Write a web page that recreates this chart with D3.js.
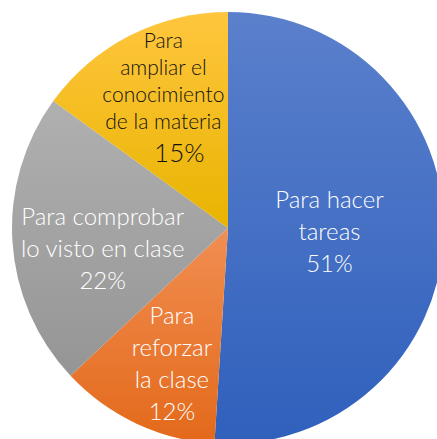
<!DOCTYPE html>
<html>
<head>
<meta charset="utf-8">
<script src="https://cdn.jsdelivr.net/npm/d3@7"></script>
<style>
  html, body { margin: 0; padding: 0; background: #fff; }
  svg { display: block; }
</style>
</head>
<body>
<div id="chart"></div>
<script>
// datos del gráfico
const categories = ['Para hacer tareas', 'Para reforzar la clase', 'Para comprobar lo visto en clase', 'Para ampliar el conocimiento de la materia']
const values = [51, 12, 22, 15]
const labelLines = [
  ['Para hacer', 'tareas'],
  ['Para', 'reforzar', 'la clase'],
  ['Para comprobar', 'lo visto en clase'],
  ['Para', 'ampliar el', 'conocimiento', 'de la materia']
]

// estilos
const width = 437
const height = 439
const cx = 228
const cy = 228
const radius = 216
const gradients = [
  ['#5b80cc', '#2f60bc'],
  ['#f18e52', '#e3691a'],
  ['#b0b0b0', '#959595'],
  ['#ffc63e', '#e8b400']
]
const labelStyle = [
  { k: 0.47, dx: 0, dy: 0, size: 24, lh: 32, color: '#fff' },
  { k: 0.675, dx: 6, dy: 3, size: 24, lh: 32, color: '#fff' },
  { k: 0.586, dx: 1, dy: 12, size: 24, lh: 32, color: '#fff' },
  { k: 0.68, dx: 2, dy: 0, size: 21, lh: 27, color: '#111', pctSize: 26, pctDx: 16, pctGap: 33 }
]

const svg = d3.select('#chart')
  .append('svg')
    .attr('width', width)
    .attr('height', height)

const defs = svg.append('defs')
gradients.forEach((c, i) => {
  const g = defs.append('linearGradient')
    .attr('id', `grad${i}`)
    .attr('x1', 0).attr('y1', 0)
    .attr('x2', 0).attr('y2', 1)
  g.append('stop').attr('offset', '0%').attr('stop-color', c[0])
  g.append('stop').attr('offset', '100%').attr('stop-color', c[1])
})

const pie = d3.pie().sort(null).value(d => d)
const arcs = pie(values)
const arc = d3.arc().innerRadius(0).outerRadius(radius)

const chart = svg.append('g')
  .attr('transform', `translate(${cx},${cy})`)

chart.selectAll('path')
  .data(arcs)
  .enter()
  .append('path')
    .attr('d', arc)
    .attr('fill', (d, i) => `url(#grad${i})`)
    .attr('stroke', 'none')

// etiquetas
arcs.forEach((d, i) => {
  const s = labelStyle[i]
  const r = radius * s.k
  const [x, y] = d3.arc().innerRadius(r).outerRadius(r).centroid(d)
  const lines = labelLines[i]
  const pct = `${values[i]}%`
  const pctSize = s.pctSize || s.size
  const pctGap = s.pctGap || s.lh
  // altura total del bloque (de primera línea base a última)
  const total = (lines.length - 1) * s.lh + pctGap
  const capMid = s.size * 0.36
  const y0 = y + s.dy - total / 2 + capMid
  const g = chart.append('g')
    .attr('font-family', 'Lato, "Open Sans", sans-serif')
    .attr('font-weight', 300)
    .attr('fill', s.color)
    .attr('text-anchor', 'middle')
  lines.forEach((t, j) => {
    g.append('text')
      .attr('x', x + s.dx)
      .attr('y', y0 + j * s.lh)
      .attr('font-size', s.size)
      .text(t)
  })
  g.append('text')
    .attr('x', x + s.dx + (s.pctDx || 0))
    .attr('y', y0 + (lines.length - 1) * s.lh + pctGap)
    .attr('font-size', pctSize)
    .text(pct)
})
</script>
</body>
</html>
